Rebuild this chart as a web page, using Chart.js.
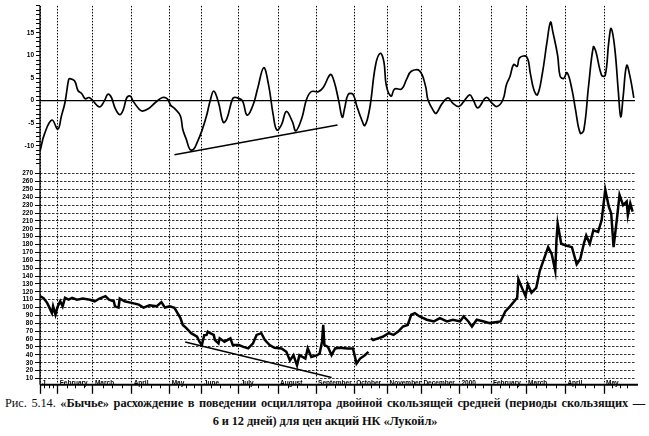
<!DOCTYPE html>
<html>
<head>
<meta charset="utf-8">
<script src="https://cdn.jsdelivr.net/npm/chart.js@4.4.1/dist/chart.umd.min.js"></script>
<style>
  html, body { margin: 0; padding: 0; background: #fff; }
  #wrap { position: relative; width: 649px; height: 394px; }
  .cap { font-family: "Liberation Serif", "Times New Roman", serif; font-size: 12.4px; color: #111;
         font-weight: bold; margin-left: 5px; width: 640px; line-height: 18px; white-space: nowrap; letter-spacing: -0.1px; }
  .l1 { text-align: justify; text-align-last: justify; }
  .l2 { text-align: center; }
  .n { font-weight: normal; }
</style>
</head>
<body>
<div id="wrap"><canvas id="c" width="649" height="394"></canvas></div>
<div class="cap l1"><span class="n">Рис. 5.14.</span> «Бычье» расхождение в поведении осциллятора двойной скользящей средней (периоды скользящих —</div>
<div class="cap l2">6 и 12 дней) для цен акций НК «Лукойл»</div>
<script>
// month boundaries on the day axis (trading-day index)
const monthTicks = [0, 15, 44.5, 77, 109, 136, 167, 200, 232, 264, 292, 320.5, 352.5, 379, 408.5, 441.5, 474];
const monthLabels = ['J', 'February', 'March', 'April', 'May', 'June', 'July', 'August', 'September',
  'October', 'November', 'December', '2000', 'February', 'March', 'April', 'May'];

const priceTicks = [10, 20, 30, 40, 50, 60, 70, 80, 90, 100, 110, 120, 130, 140, 150, 160, 170,
  180, 190, 200, 210, 220, 230, 240, 250, 260, 270];

// double moving average oscillator (6 / 12)
const oscDays = [0, 4, 10, 15, 18, 21, 24, 25, 29, 32, 35, 38, 41, 44, 50, 54, 57, 60, 63, 67, 70, 73, 76, 78,
  83, 86, 91, 97, 103, 107, 110, 113, 118, 120, 123, 126, 129, 132, 136, 140, 143, 146, 150, 154, 157,
  162, 165, 170, 174, 179, 183, 188, 192, 196, 199, 203, 207, 212, 215, 220, 224, 228, 234, 238, 244,
  247, 251, 254, 256, 259, 263, 266, 270, 273, 277, 282, 286, 289, 291, 295, 298, 304, 308, 312, 319,
  324, 326, 331, 333, 338, 343, 347, 352, 356, 361, 364, 368, 375, 380, 384, 389, 392, 395, 398, 401,
  403, 409, 412, 415, 418, 422, 426, 429, 431, 435, 437, 440, 443, 447, 450, 454, 457, 461, 465, 467,
  472, 475, 478, 480, 483, 486, 488, 490, 493, 496, 499];
const oscVals = [-11.2, -7.2, -4.3, -6.3, -3.4, -0.4, 4.6, 4.9, 4.4, 2.2, 1.6, 0.4, 0.7, 0.1, -1.4, -0.1, 1.4,
  0.7, -1.6, -3.1, -2, 0.7, 1.0, 0, -1.8, -2.3, -1.8, -0.4, 0.7, 0.4, -1.1, -1.7, -3.4, -6.4, -8.6, -10.8,
  -10.8, -9.3, -6.7, -3.3, 0, 2.1, -0.4, -4.8, -4, 0.5, 0.7, 0, -3.2, -1, 2.8, 7.3, 3.6, -3.2, -6.5, -5.3,
  -2.4, -4.6, -6.7, -3.9, 0.3, 2.0, 2.0, 2.9, 5.8, 4.4, 0, -3.7, -1.7, 1.4, 1.4, -1, -4.0, -5.5, -1.8, 7.9,
  10.5, 8.6, 3.4, 1.0, 2.6, 2.6, 4.7, 6.5, 6.6, 3.2, 0.2, -2.4, -2.8, -0.6, 0.6, -0.6, -1.3, -0.2, 1.3,
  0.2, -1.6, 0.7, -0.6, -1.3, 0.2, 3.6, 5.4, 8.0, 7.6, 9.5, 9.7, 6.1, 2.4, 1.3, 5.8, 12.9, 17.4, 15.2, 10,
  5.5, 4.9, 6.2, 2.5, -2, -7.2, -6.5, 3.3, 11.9, 11.0, 5.6, 5.6, 13.1, 16, 11.6, 2.0, -3.6, 0.8, 7.8,
  5.1, 0.6];

// Lukoil share price
const priceDays = [0, 3, 6, 8, 10, 11, 13, 14, 15, 17, 19, 21, 24, 27, 31, 36, 42, 46, 50, 55, 58, 62, 63,
  66, 67, 71, 77, 83, 87, 92, 98, 102, 105, 109, 113, 118, 120, 123, 127, 132, 134, 136, 138, 140, 141,
  143, 146, 147, 150, 151, 155, 160, 162, 167, 171, 175, 179, 182, 186, 189, 193, 197, 203, 207, 210,
  213, 216, 218, 223, 225, 228, 233, 235, 237, 238, 239, 242, 245, 248, 252, 258, 263, 266, 269, 273,
  276, 277, 278, 280, 284, 288, 293, 297, 301, 305, 309, 312, 315, 319, 325, 331, 336, 342, 347, 353,
  356, 360, 363, 367, 373, 378, 387, 391, 395, 401, 402, 405, 408, 410, 413, 417, 420, 423, 427, 430,
  433, 434, 435, 438, 442, 447, 451, 454, 457, 459, 462, 465, 469, 472, 475, 478, 480, 482, 485, 487,
  490, 493, 494, 496, 498];
const priceVals = [114.5, 112, 106, 99.6, 93, 101.6, 91, 97, 101.6, 108, 101.6, 112.4, 110, 112.4, 110,
  111.5, 110, 108, 111.5, 114.5, 110, 108, 101.6, 100, 111.5, 108, 106, 103.8, 100, 103, 101.6, 107, 100,
  101.6, 99.6, 86.7, 78, 73.9, 67.5, 63, 56.7, 52.4, 65, 65.3, 69.5, 67.5, 65.3, 58.8, 54.6, 61, 56.7, 61,
  52.4, 52.4, 50.2, 48.2, 54.6, 65.3, 67.5, 58.8, 52.4, 49, 48.2, 43.8, 33, 39.6, 26.7, 39.6, 35.3, 48.2,
  37.4, 39.6, 41.7, 56.7, 78, 52.4, 50, 39.6, 48.2, 49, 48, 48, 28.9, 35.3, 39.6, 43.8, null, 61, 58.8,
  61, 63, 67.5, 65.3, 69.5, 76, 78, 91, 93, 88.8, 84.6, 82.4, 86.7, 82.4, 84.6, 82.4, 88.8, 82.4, 76,
  84.6, 82.4, 80.3, 82.4, 95, 101.6, 112.4, 136, 125, 114.5, 129.5, 118.9, 125, 146.6, 159.5, 176.7,
  168, 146.6, 185, 206.7, 181, 178.8, 176.7, 155, 161.7, 181, 191.6, 181, 198, 196, 211, 249.5, 228,
  219.5, 176.7, 215, 243, 230, 234.5, 217.3, 232.4, 221.7];

// divergence lines
const oscTrendDays = [113, 250];
const oscTrendVals = [-12, -5.4];
const priceTrendDays = [122, 245];
const priceTrendVals = [56.3, 11.3];

const pts = (xs, ys) => xs.map((x, i) => ({x: x, y: ys[i]}));

const tickFont = {family: 'Liberation Sans', size: 6.5, weight: 'bold'};

// solid axis lines and short weekly ticks (grid lines are dotted, so borders are drawn here)
const axisLines = {
  id: 'axisLines',
  afterDraw(chart) {
    const {ctx, chartArea: a} = chart;
    const x = chart.scales.x;
    ctx.save();
    ctx.strokeStyle = '#000';
    ctx.lineWidth = 1.3;
    ctx.beginPath(); ctx.moveTo(a.left, a.top); ctx.lineTo(a.left, a.bottom); ctx.stroke();
    ctx.lineWidth = 1;
    ctx.beginPath();
    for (let i = 0; i < monthTicks.length; i++) {
      const m0 = monthTicks[i], m1 = i + 1 < monthTicks.length ? monthTicks[i + 1] : 500;
      for (let k = 1; k < 4; k++) {
        const v = m0 + (m1 - m0) * k / 4;
        if (v >= 500) continue;
        const px = Math.round(x.getPixelForValue(v)) + 0.5;
        ctx.moveTo(px, a.bottom); ctx.lineTo(px, a.bottom + 3.5);
      }
    }
    ctx.stroke();
    ctx.lineWidth = 2;
    ctx.beginPath(); ctx.moveTo(a.left, a.bottom); ctx.lineTo(a.right + 3, a.bottom); ctx.stroke();
    ctx.restore();
  }
};

new Chart(document.getElementById('c'), {
  type: 'line',
  plugins: [axisLines],
  data: {
    datasets: [
      {
        label: 'zero',
        data: pts([0, 500], [0, 0]),
        xAxisID: 'x', yAxisID: 'yo',
        borderColor: '#000', borderWidth: 1.4, pointRadius: 0
      },
      {
        label: 'oscillator',
        data: pts(oscDays, oscVals),
        xAxisID: 'x', yAxisID: 'yo',
        borderColor: '#000', borderWidth: 1.7, pointRadius: 0, tension: 0.4
      },
      {
        label: 'osc trend',
        data: pts(oscTrendDays, oscTrendVals),
        xAxisID: 'x', yAxisID: 'yo',
        borderColor: '#000', borderWidth: 1.4, pointRadius: 0
      },
      {
        label: 'price',
        data: pts(priceDays, priceVals),
        xAxisID: 'x', yAxisID: 'y',
        borderColor: '#000', borderWidth: 2.5, pointRadius: 0, tension: 0, spanGaps: false
      },
      {
        label: 'price trend',
        data: pts(priceTrendDays, priceTrendVals),
        xAxisID: 'x', yAxisID: 'y',
        borderColor: '#000', borderWidth: 1.4, pointRadius: 0
      }
    ]
  },
  options: {
    responsive: false,
    animation: false,
    layout: {padding: {left: 0, right: 14, top: 4, bottom: 5}},
    plugins: {legend: {display: false}, tooltip: {enabled: false}},
    scales: {
      x: {
        type: 'linear', min: 0, max: 500, position: 'bottom',
        afterBuildTicks: s => { s.ticks = monthTicks.map(v => ({value: v})); },
        ticks: {
          autoSkip: false, maxRotation: 0, align: 'start', labelOffset: 2, mirror: true, padding: -2.4,
          color: '#000', font: {family: 'Liberation Sans', size: 6.5, weight: 'bold'},
          callback: (v, i) => monthLabels[i]
        },
        grid: {color: '#000', lineWidth: 1, tickLength: 9, tickColor: '#000', tickWidth: 1.3},
        border: {display: false, dash: [1.5, 1.5]}
      },
      yo: {
        type: 'linear', position: 'left', stack: 'main', stackWeight: 157, weight: 1,
        min: -14.25, max: 21,
        afterFit: s => { s.width = 40; },
        afterBuildTicks: s => {
          const t = [];
          for (let v = -14; v <= 21; v++) t.push({value: v});
          s.ticks = t;
        },
        ticks: {
          autoSkip: false, color: '#000', font: tickFont, padding: 2,
          callback: v => (v % 5 === 0 && v >= -10 && v <= 15) ? String(v) : ''
        },
        grid: {drawOnChartArea: false, tickLength: 4, tickColor: '#000', tickWidth: 1},
        border: {display: false}
      },
      y: {
        type: 'linear', position: 'left', stack: 'main', stackWeight: 217, weight: 0,
        min: 2, max: 281,
        afterFit: s => { s.width = 40; },
        afterBuildTicks: s => { s.ticks = priceTicks.map(v => ({value: v})); },
        ticks: {autoSkip: false, color: '#000', font: tickFont, padding: 2},
        grid: {color: '#333', lineWidth: 1, tickLength: 5, tickColor: '#000', tickWidth: 1},
        border: {display: false, dash: [2.5, 1.5]}
      }
    }
  }
});
</script>
</body>
</html>
